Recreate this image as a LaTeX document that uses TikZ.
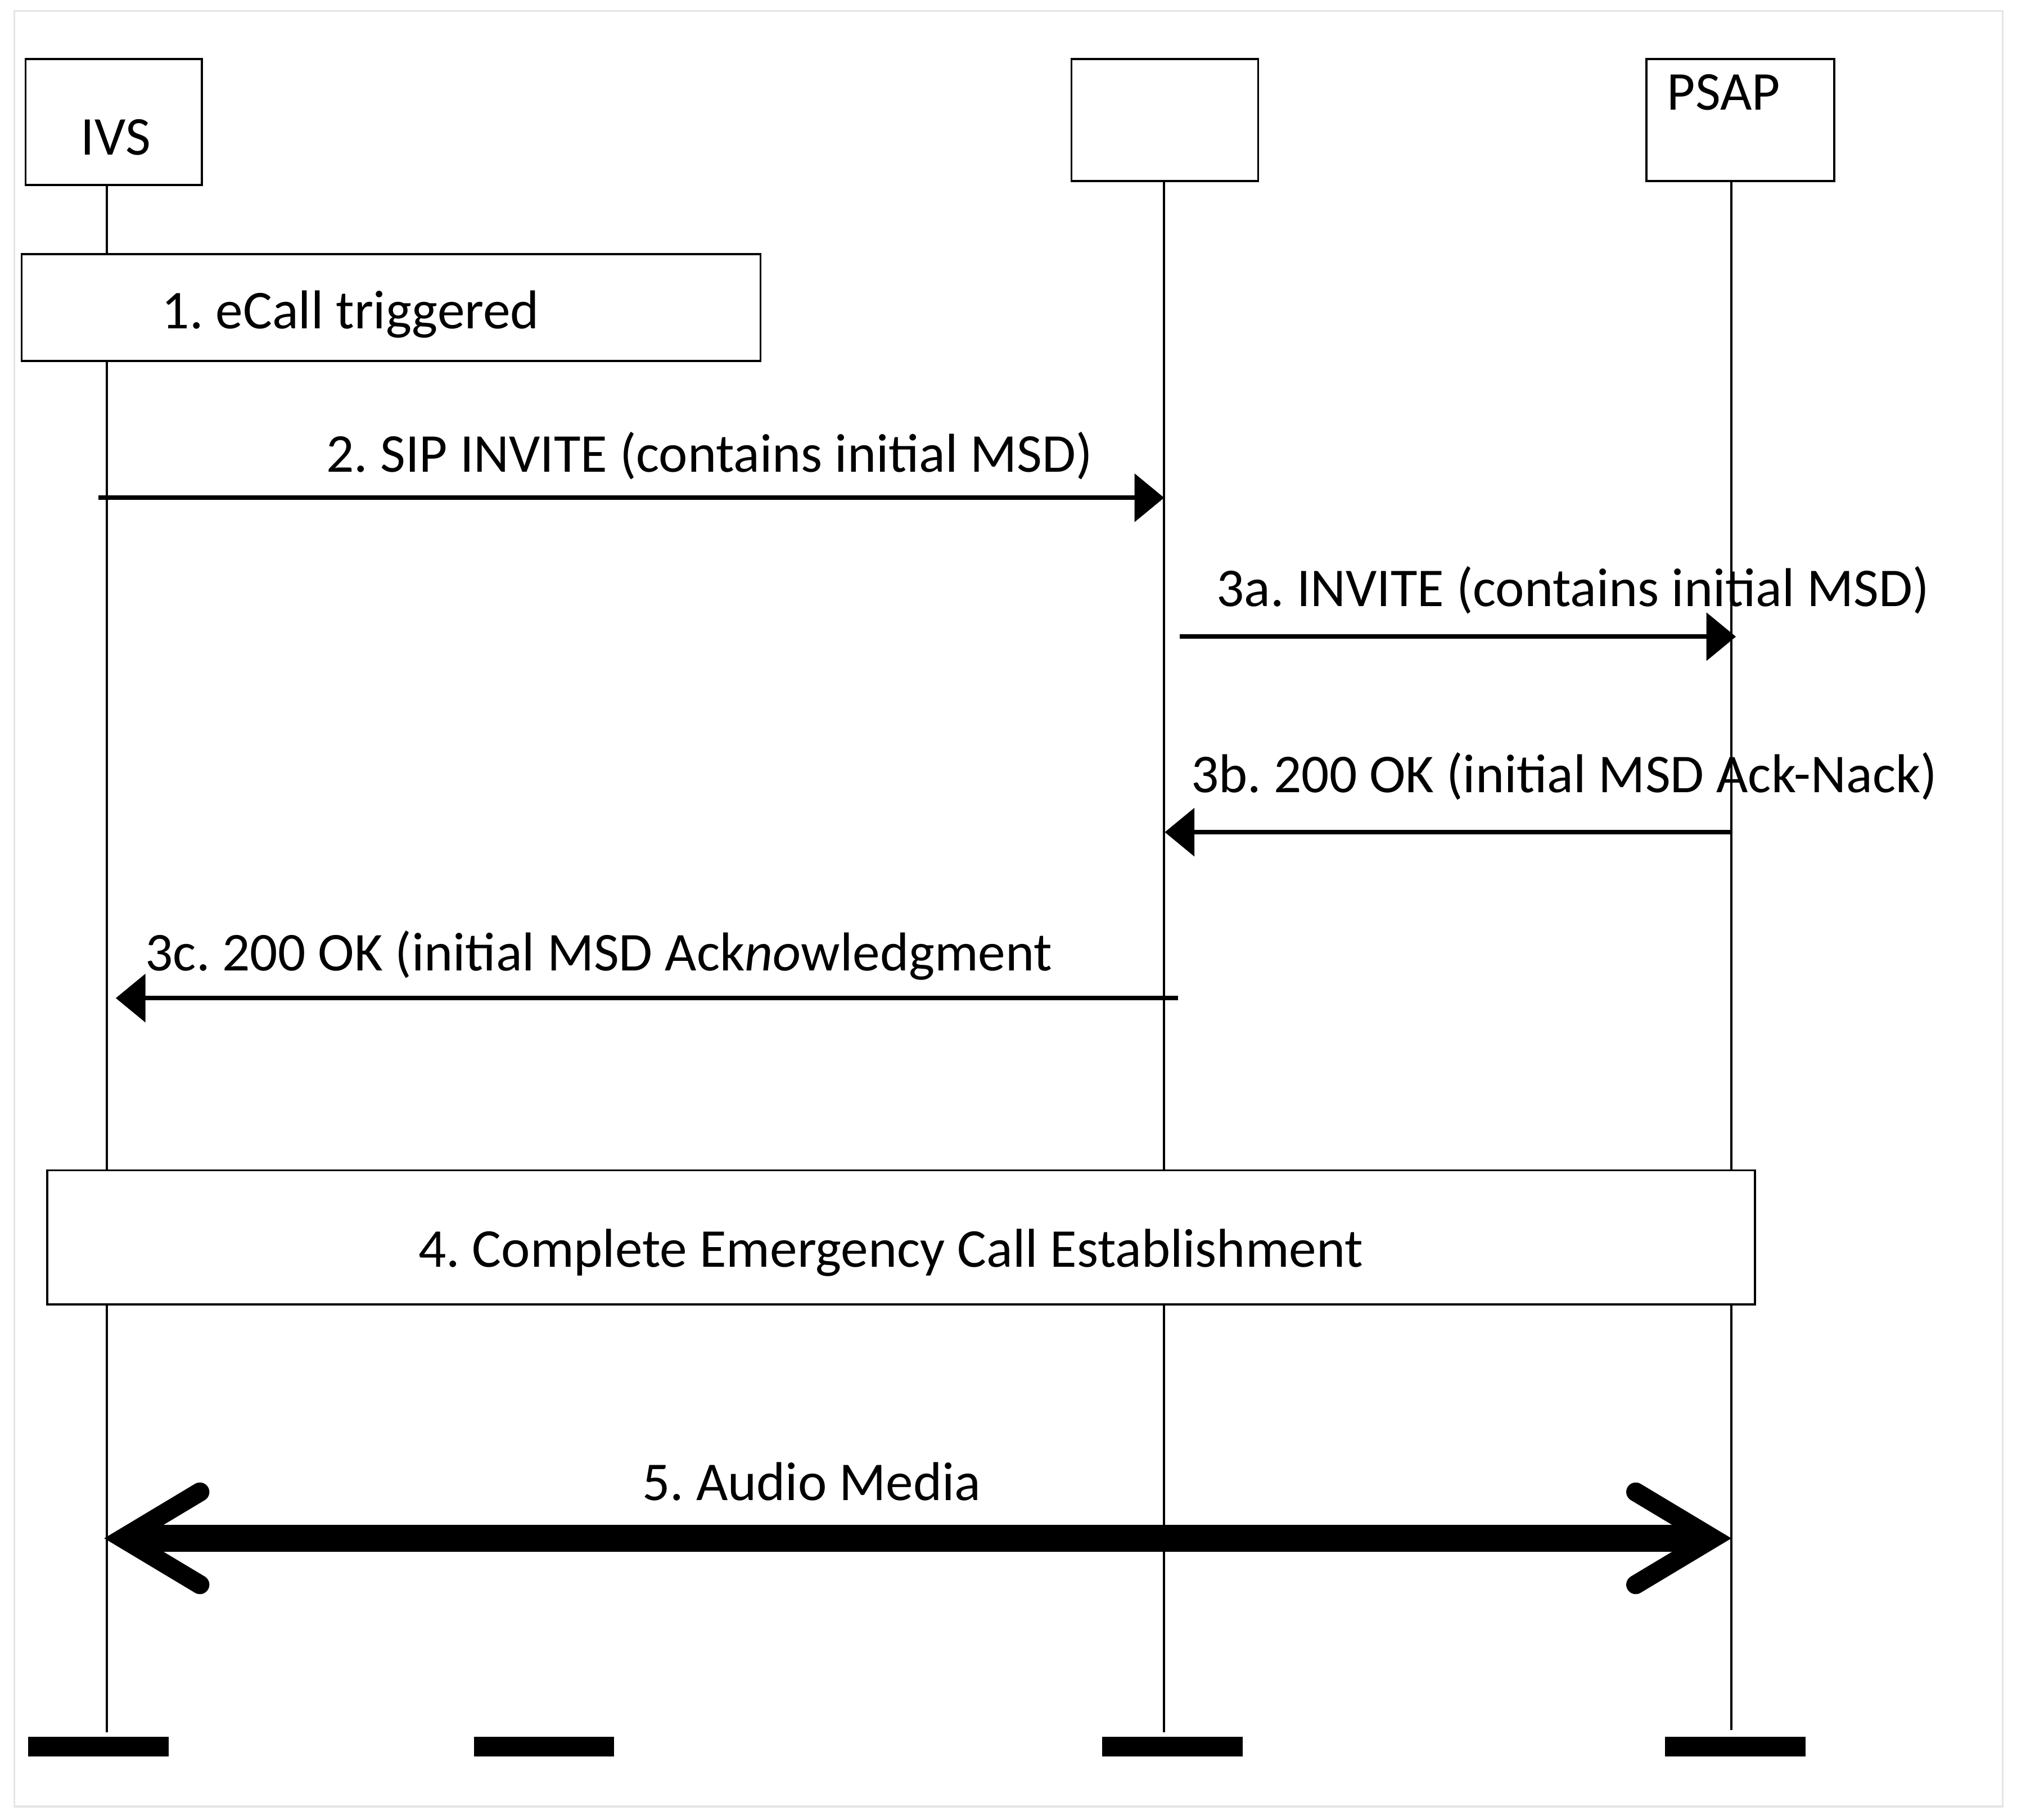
\documentclass[tikz,border=0pt]{standalone}
\usepackage{fontspec}
\setmainfont{Carlito}
\usetikzlibrary{arrows.meta}
\frenchspacing
\tikzset{
    actor/.style = {rectangle, draw=black, line width=0.45pt, fill=white, inner sep=0pt},
    stepbox/.style = {rectangle, draw=black, line width=0.45pt, fill=white, inner sep=0pt},
    txt/.style = {anchor=base, inner sep=0pt, font=\fontsize{12.1}{14.5}\selectfont},
    life/.style = {line width=0.45pt},
    msg/.style = {-{Triangle[length=0.23cm,width=0.37cm]}, line width=1pt},
    barb/.tip = {Straight Barb[length=0.6cm,width=0.72cm,line width=4.2pt 0,line cap=round,line join=miter]},
    audio/.style = {barb-barb, line width=6pt},
    bar/.style = {rectangle, fill=black, minimum width=1.09cm, minimum height=0.15cm, inner sep=0pt},
    frame/.style = {draw=black!10, line width=0.4pt}
}

\begin{document}
\begin{tikzpicture}[x=0.01cm,y=-0.01cm]
\useasboundingbox (0,0) rectangle (1568,1415);
\draw[frame] (11,8.5) rectangle (1557,1404.5);
% lifelines
\coordinate (ivsTop) at (83,140);
\coordinate (ivsEnd) at (83,1347);
\coordinate (midTop) at (905,140);
\coordinate (midEnd) at (905,1347);
\coordinate (psapTop) at (1346,140);
\coordinate (psapEnd) at (1346,1345);
\draw[life] (ivsTop) -- (ivsEnd);
\draw[life] (midTop) -- (midEnd);
\draw[life] (psapTop) -- (psapEnd);
% heads
\node[actor, minimum width=1.37cm, minimum height=0.98cm] at (88.5,94.9) (ivs) {};
\node[actor, minimum width=1.45cm, minimum height=0.95cm] at (905.5,93.3) (mid) {};
\node[actor, minimum width=1.46cm, minimum height=0.95cm] at (1353,93.3) (psap) {};
\node[txt] at (90,120.5) (ivsLbl) {IVS};
\node[txt] at (1340,85.5) (psapLbl) {PSAP};
%
\node[stepbox, minimum width=5.74cm, minimum height=0.83cm] at (304,239) (trig) {};
\node[txt] at (272.5,255.6) (trigLbl) {1. eCall triggered};
%
\coordinate (m2s) at (76.5,387);
\coordinate (m2e) at (905,387);
\coordinate (m3as) at (917,495);
\coordinate (m3ae) at (1349.5,495);
\coordinate (m3bs) at (1346.4,647);
\coordinate (m3be) at (905.5,647);
\coordinate (m3cs) at (916,776);
\coordinate (m3ce) at (90,776);
\draw[msg] (m2s) -- (m2e);
\draw[msg] (m3as) -- (m3ae);
\draw[msg] (m3bs) -- (m3be);
\draw[msg] (m3cs) -- (m3ce);
\node[txt] at (551.7,366.9) (m2Lbl) {2. SIP INVITE (contains initial MSD)};
\node[txt] at (1222.9,471.3) (m3aLbl) {3a. INVITE (contains initial MSD)};
\node[txt] at (1216,616) (m3bLbl) {3b. 200 OK (initial MSD Ack-Nack)};
\node[txt] at (465.5,754.8) (m3cLbl) {3c. 200 OK (initial MSD Ack\textit{no}wledgment};
%
\node[stepbox, minimum width=13.27cm, minimum height=1.04cm] at (700.5,962) (estab) {};
\node[txt] at (692.5,985) (estabLbl) {4. Complete Emergency Call Establishment};
%
\coordinate (m5s) at (81,1196);
\coordinate (m5e) at (1346,1196);
\draw[audio] (m5s) -- (m5e);
\node[txt] at (631,1166.4) (m5Lbl) {5. Audio Media};
% ends
\node[bar] at (76.5,1358) (bar1) {};
\node[bar] at (423,1358) (bar2) {};
\node[bar] at (911.5,1358) (bar3) {};
\node[bar] at (1349,1358) (bar4) {};

\end{tikzpicture}
\end{document}
